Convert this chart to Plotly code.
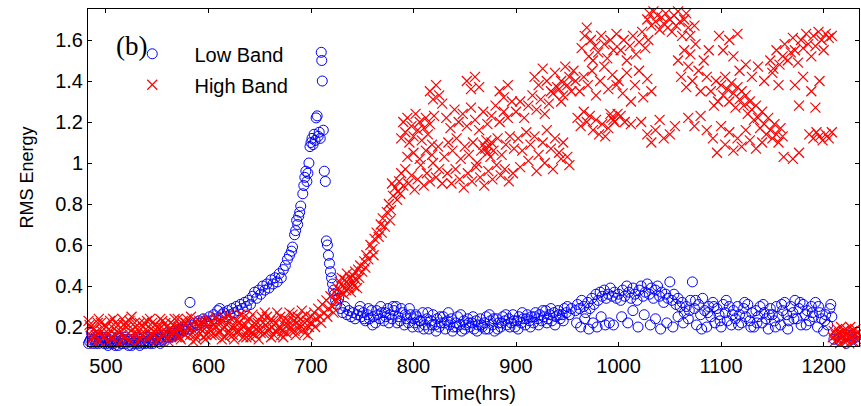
import plotly.graph_objects as go

# Low band RMS energy, (time in hrs, value)
low_band = [
    # 482-560, flat near the floor
    (482, 0.15), (484, 0.13), (486, 0.17), (488, 0.14), (490, 0.12), (492, 0.16), (494, 0.13), (496, 0.15),
    (498, 0.12), (500, 0.14), (502, 0.11), (504, 0.13), (506, 0.15), (508, 0.12), (510, 0.14), (512, 0.11),
    (514, 0.13), (516, 0.12), (518, 0.15), (520, 0.13), (522, 0.11), (524, 0.14), (526, 0.12), (528, 0.13),
    (530, 0.15), (532, 0.12), (534, 0.14), (536, 0.12), (538, 0.13), (540, 0.15), (542, 0.13), (544, 0.14),
    (546, 0.12), (548, 0.14), (550, 0.16), (552, 0.13), (554, 0.15), (556, 0.14), (558, 0.16), (560, 0.15),
    (483, 0.12), (485, 0.14), (487, 0.12), (489, 0.15), (491, 0.13), (493, 0.12), (495, 0.14), (497, 0.13),
    (499, 0.15), (501, 0.12), (503, 0.14), (505, 0.12), (507, 0.13), (509, 0.11), (511, 0.13), (513, 0.15),
    (515, 0.12), (517, 0.14), (519, 0.12), (521, 0.14), (523, 0.13), (525, 0.11), (527, 0.14), (529, 0.12),
    (531, 0.13), (533, 0.11), (535, 0.13), (537, 0.15), (539, 0.12), (541, 0.13), (543, 0.12), (545, 0.15),
    (547, 0.13), (549, 0.15), (551, 0.14), (553, 0.12), (555, 0.16), (557, 0.13), (559, 0.17),
    # 560-600
    (562, 0.16), (564, 0.15), (566, 0.17), (568, 0.16), (570, 0.18), (572, 0.17), (574, 0.19), (576, 0.18),
    (578, 0.20), (580, 0.19), (582, 0.32), (583, 0.21), (585, 0.20), (587, 0.22), (589, 0.21), (591, 0.23),
    (593, 0.22), (595, 0.24), (597, 0.23), (599, 0.22),
    (561, 0.15), (563, 0.17), (565, 0.16), (567, 0.18), (569, 0.17), (571, 0.19), (573, 0.18), (575, 0.20),
    (577, 0.19),
    # 600-640
    (601, 0.25), (603, 0.23), (605, 0.26), (607, 0.24), (609, 0.28), (611, 0.29), (613, 0.26), (615, 0.27),
    (617, 0.25), (619, 0.28), (621, 0.26), (623, 0.29), (625, 0.27), (627, 0.30), (629, 0.28), (631, 0.31),
    (633, 0.29), (635, 0.32), (637, 0.30), (639, 0.33),
    # 640-682, growth
    (641, 0.31), (643, 0.35), (645, 0.37), (647, 0.34), (649, 0.38), (651, 0.36), (653, 0.40), (655, 0.38),
    (657, 0.41), (659, 0.39), (661, 0.43), (663, 0.41), (665, 0.44), (667, 0.42), (669, 0.46), (671, 0.44),
    (673, 0.48), (675, 0.50), (677, 0.53), (679, 0.55), (681, 0.57),
    # 682-716, the peak
    (682, 0.59), (684, 0.65), (685, 0.67), (686, 0.72), (687, 0.70), (688, 0.74), (689, 0.76), (690, 0.79),
    (692, 0.85), (693, 0.89), (694, 0.93), (695, 0.96), (696, 0.91), (697, 0.95), (698, 1.00), (699, 1.08),
    (700, 1.10), (701, 1.12), (702, 1.09), (703, 1.14), (704, 1.11), (705, 1.22), (706, 1.23), (707, 1.13),
    (708, 1.15), (709, 1.12), (710, 1.54), (710.5, 1.50), (711, 1.40), (712, 1.16), (713, 0.96), (714, 0.91),
    (715, 0.62), (716, 0.60),
    # 716-745, drop
    (717, 0.55), (718, 0.51), (719, 0.47), (720, 0.44), (721, 0.41), (722, 0.38), (723, 0.36), (724, 0.33),
    (725, 0.31), (727, 0.34), (729, 0.29), (731, 0.27), (733, 0.30), (735, 0.26), (737, 0.28), (739, 0.25),
    (741, 0.27), (743, 0.24), (745, 0.26),
    # 747-800
    (747, 0.28), (749, 0.25), (751, 0.27), (753, 0.23), (755, 0.26), (757, 0.24), (759, 0.28), (761, 0.25),
    (763, 0.22), (765, 0.26), (767, 0.24), (769, 0.27), (771, 0.23), (773, 0.25), (775, 0.29), (777, 0.26),
    (779, 0.24), (781, 0.28), (783, 0.30), (785, 0.25), (787, 0.23), (789, 0.27), (791, 0.21), (793, 0.24),
    (795, 0.22), (797, 0.26), (799, 0.20),
    (748, 0.30), (752, 0.24), (756, 0.29), (760, 0.21), (764, 0.28), (768, 0.30), (772, 0.27), (776, 0.22),
    (780, 0.30), (784, 0.22), (788, 0.29), (792, 0.26), (796, 0.29), (800, 0.24),
    # 800-950
    (801, 0.22), (803, 0.25), (805, 0.20), (807, 0.23), (809, 0.27), (811, 0.21), (813, 0.24), (815, 0.19),
    (817, 0.23), (819, 0.26), (821, 0.21), (823, 0.24), (825, 0.20), (827, 0.22), (829, 0.25), (831, 0.19),
    (833, 0.23), (835, 0.21), (837, 0.24), (839, 0.20), (841, 0.22), (843, 0.25), (845, 0.21), (847, 0.18),
    (849, 0.23), (851, 0.21), (853, 0.24), (855, 0.20), (857, 0.22), (859, 0.19), (861, 0.23), (863, 0.21),
    (865, 0.24), (867, 0.20), (869, 0.22), (871, 0.25), (873, 0.19), (875, 0.23), (877, 0.21), (879, 0.18),
    (881, 0.24), (883, 0.22), (885, 0.20), (887, 0.25), (889, 0.23), (891, 0.21), (893, 0.24), (895, 0.22),
    (897, 0.26), (899, 0.20), (901, 0.23), (903, 0.25), (905, 0.22), (907, 0.24), (909, 0.21), (911, 0.26),
    (913, 0.23), (915, 0.25), (917, 0.22), (919, 0.27), (921, 0.24), (923, 0.26), (925, 0.23), (927, 0.25),
    (929, 0.28), (931, 0.24), (933, 0.26), (935, 0.23), (937, 0.27), (939, 0.25), (941, 0.28), (943, 0.24),
    (945, 0.26), (947, 0.29), (949, 0.27),
    (802, 0.26), (806, 0.23), (810, 0.19), (814, 0.27), (818, 0.21), (822, 0.18), (826, 0.25), (830, 0.22),
    (834, 0.27), (838, 0.18), (842, 0.20), (846, 0.26), (850, 0.19), (854, 0.22), (858, 0.25), (862, 0.18),
    (866, 0.21), (870, 0.19), (874, 0.26), (878, 0.24), (882, 0.19), (886, 0.22), (890, 0.26), (894, 0.20),
    (898, 0.23), (902, 0.19), (906, 0.27), (910, 0.24), (914, 0.20), (918, 0.25), (922, 0.21), (926, 0.28),
    (930, 0.22), (934, 0.29), (938, 0.21), (942, 0.26), (946, 0.23), (950, 0.30), (952, 0.26), (954, 0.29),
    # 958-1000, two levels
    (958, 0.28), (960, 0.31), (962, 0.29), (964, 0.33), (966, 0.30), (968, 0.27), (970, 0.32), (972, 0.29),
    (974, 0.34), (976, 0.31), (978, 0.36), (980, 0.33), (982, 0.37), (984, 0.35), (986, 0.38), (988, 0.34),
    (990, 0.36), (992, 0.39), (994, 0.35), (996, 0.37), (998, 0.34),
    (959, 0.22), (963, 0.20), (967, 0.24), (971, 0.19), (975, 0.22), (979, 0.20), (983, 0.25), (987, 0.21),
    (991, 0.22), (995, 0.21),
    # 1000-1060
    (1000, 0.36), (1002, 0.33), (1004, 0.38), (1006, 0.35), (1008, 0.40), (1010, 0.37), (1012, 0.34),
    (1014, 0.39), (1016, 0.36), (1018, 0.33), (1020, 0.38), (1022, 0.40), (1024, 0.35), (1026, 0.37),
    (1028, 0.41), (1030, 0.36), (1032, 0.39), (1034, 0.34), (1036, 0.38), (1038, 0.40), (1040, 0.35),
    (1042, 0.37), (1044, 0.32), (1046, 0.36), (1048, 0.34), (1050, 0.42), (1052, 0.33), (1054, 0.36),
    (1056, 0.31), (1058, 0.34), (1060, 0.30),
    (1003, 0.25), (1009, 0.22), (1014, 0.28), (1019, 0.20), (1025, 0.26), (1031, 0.21), (1036, 0.24),
    (1041, 0.19), (1047, 0.22), (1053, 0.20), (1058, 0.25),
    # 1062-1110
    (1062, 0.32), (1064, 0.27), (1066, 0.30), (1068, 0.24), (1070, 0.33), (1072, 0.42), (1074, 0.29),
    (1076, 0.21), (1078, 0.31), (1080, 0.26), (1082, 0.34), (1084, 0.28), (1086, 0.20), (1088, 0.30),
    (1090, 0.25), (1092, 0.32), (1094, 0.22), (1096, 0.29), (1098, 0.26), (1100, 0.20), (1102, 0.31),
    (1104, 0.27), (1106, 0.23), (1108, 0.30), (1110, 0.21),
    # 1112-1208
    (1112, 0.28), (1114, 0.24), (1116, 0.30), (1118, 0.26), (1120, 0.22), (1122, 0.29), (1124, 0.25),
    (1126, 0.31), (1128, 0.23), (1130, 0.27), (1132, 0.20), (1134, 0.28), (1136, 0.25), (1138, 0.30),
    (1140, 0.22), (1142, 0.27), (1144, 0.24), (1146, 0.19), (1148, 0.29), (1150, 0.26), (1152, 0.23),
    (1154, 0.30), (1156, 0.25), (1158, 0.21), (1160, 0.28), (1162, 0.32), (1164, 0.26), (1166, 0.23),
    (1168, 0.30), (1170, 0.27), (1172, 0.33), (1174, 0.24), (1176, 0.29), (1178, 0.21), (1180, 0.31),
    (1182, 0.26), (1184, 0.28), (1186, 0.23), (1188, 0.30), (1190, 0.25), (1192, 0.32), (1194, 0.20),
    (1196, 0.27), (1198, 0.24), (1200, 0.18), (1202, 0.26), (1204, 0.21), (1206, 0.29), (1208, 0.25),
    (1063, 0.22), (1069, 0.28), (1075, 0.33), (1081, 0.19), (1087, 0.27), (1093, 0.30), (1099, 0.23),
    (1105, 0.33), (1111, 0.26), (1117, 0.21), (1123, 0.32), (1129, 0.20), (1135, 0.22), (1141, 0.31),
    (1147, 0.26), (1153, 0.20), (1159, 0.31), (1165, 0.19), (1171, 0.24), (1177, 0.32), (1183, 0.21),
    (1189, 0.27), (1195, 0.30), (1201, 0.23), (1207, 0.31),
    # after 1210
    (1210, 0.14), (1213, 0.16), (1216, 0.13), (1219, 0.15), (1222, 0.12), (1225, 0.16), (1228, 0.14),
    (1231, 0.15), (1234, 0.13),
]

# High band RMS energy
high_band = [
    # 482-600
    (482, 0.17), (484, 0.21), (486, 0.14), (488, 0.19), (490, 0.16), (492, 0.22), (494, 0.13), (496, 0.18),
    (498, 0.15), (500, 0.20), (502, 0.17), (504, 0.23), (506, 0.14), (508, 0.19), (510, 0.16), (512, 0.21),
    (514, 0.18), (516, 0.24), (518, 0.15), (520, 0.20), (522, 0.17), (524, 0.13), (526, 0.19), (528, 0.22),
    (530, 0.16), (532, 0.18), (534, 0.14), (536, 0.20), (538, 0.17), (540, 0.23), (542, 0.15), (544, 0.19),
    (546, 0.16), (548, 0.21), (550, 0.18), (552, 0.14), (554, 0.20), (556, 0.17), (558, 0.22), (560, 0.15),
    (562, 0.19), (564, 0.16), (566, 0.21), (568, 0.18), (570, 0.24), (572, 0.15), (574, 0.20), (576, 0.17),
    (578, 0.22), (580, 0.19), (582, 0.16), (584, 0.21), (586, 0.18), (588, 0.14), (590, 0.20), (592, 0.17),
    (594, 0.23), (596, 0.19), (598, 0.16), (600, 0.21),
    (483, 0.23), (489, 0.12), (495, 0.22), (501, 0.13), (507, 0.24), (513, 0.12), (519, 0.22), (525, 0.25),
    (531, 0.13), (537, 0.22), (543, 0.24), (549, 0.13), (555, 0.23), (561, 0.13), (567, 0.24), (573, 0.14),
    (579, 0.24), (585, 0.13), (591, 0.23), (597, 0.14),
    (485, 0.20), (487, 0.15), (491, 0.18), (493, 0.24), (497, 0.16), (499, 0.21), (503, 0.19), (505, 0.15),
    (509, 0.22), (511, 0.18), (515, 0.16), (517, 0.21), (521, 0.14), (523, 0.23), (527, 0.17), (529, 0.20),
    (533, 0.22), (535, 0.16), (539, 0.19), (541, 0.14), (545, 0.22), (547, 0.18), (551, 0.20), (553, 0.24),
    (557, 0.16), (559, 0.20), (563, 0.22), (565, 0.18), (569, 0.15), (571, 0.20), (575, 0.23), (577, 0.16),
    (581, 0.20), (583, 0.25), (587, 0.16), (589, 0.22), (593, 0.19), (595, 0.15), (599, 0.24),
    # 602-700
    (602, 0.18), (604, 0.22), (606, 0.16), (608, 0.20), (610, 0.17), (612, 0.23), (614, 0.19), (616, 0.15),
    (618, 0.21), (620, 0.18), (622, 0.24), (624, 0.16), (626, 0.20), (628, 0.17), (630, 0.22), (632, 0.19),
    (634, 0.15), (636, 0.21), (638, 0.18), (640, 0.24), (642, 0.17), (644, 0.20), (646, 0.16), (648, 0.22),
    (650, 0.19), (652, 0.25), (654, 0.17), (656, 0.21), (658, 0.18), (660, 0.23), (662, 0.20), (664, 0.16),
    (666, 0.22), (668, 0.19), (670, 0.25), (672, 0.18), (674, 0.21), (676, 0.17), (678, 0.23), (680, 0.20),
    (682, 0.26), (684, 0.18), (686, 0.22), (688, 0.19), (690, 0.24), (692, 0.21), (694, 0.17), (696, 0.23),
    (698, 0.20), (700, 0.25),
    (607, 0.25), (613, 0.14), (619, 0.26), (625, 0.14), (631, 0.26), (637, 0.15), (643, 0.26), (649, 0.14),
    (655, 0.27), (661, 0.15), (667, 0.27), (673, 0.15), (679, 0.27), (685, 0.16), (691, 0.28), (697, 0.16),
    (601, 0.19), (603, 0.16), (605, 0.21), (609, 0.23), (611, 0.18), (615, 0.20), (617, 0.24), (621, 0.16),
    (623, 0.20), (627, 0.23), (629, 0.18), (633, 0.21), (635, 0.25), (639, 0.19), (641, 0.15), (645, 0.22),
    (647, 0.19), (651, 0.17), (653, 0.22), (657, 0.25), (659, 0.19), (663, 0.23), (665, 0.18), (669, 0.20),
    (671, 0.16), (675, 0.24), (677, 0.21), (681, 0.18), (683, 0.23), (687, 0.25), (689, 0.21), (693, 0.19),
    (695, 0.26), (699, 0.22),
    # 701-725
    (701, 0.22), (703, 0.27), (705, 0.24), (707, 0.29), (709, 0.25), (711, 0.31), (713, 0.27), (715, 0.33),
    (717, 0.29), (719, 0.35), (721, 0.30), (723, 0.37), (725, 0.33), (704, 0.20), (710, 0.22), (716, 0.25),
    (722, 0.27),
    # 726-748 cluster
    (726, 0.39), (727, 0.35), (728, 0.42), (729, 0.37), (730, 0.44), (731, 0.40), (732, 0.36), (733, 0.43),
    (734, 0.38), (735, 0.46), (736, 0.41), (737, 0.39), (738, 0.44), (739, 0.37), (740, 0.42), (741, 0.45),
    (742, 0.40), (743, 0.47), (744, 0.43), (745, 0.39), (746, 0.48), (747, 0.44), (748, 0.50),
    # 750-790 rise
    (750, 0.47), (752, 0.52), (754, 0.55), (756, 0.53), (758, 0.60), (760, 0.58), (762, 0.63), (764, 0.66),
    (766, 0.64), (768, 0.70), (770, 0.73), (772, 0.69), (774, 0.76), (776, 0.80), (778, 0.77), (780, 0.84),
    (782, 0.88), (784, 0.82), (786, 0.91), (788, 0.95), (790, 0.89), (753, 0.49), (761, 0.55), (769, 0.66),
    (777, 0.72), (785, 0.86), (779, 0.90), (787, 0.85),
    # 788-830
    (788, 1.12), (790, 1.20), (792, 1.15), (794, 1.22), (796, 1.10), (798, 1.18), (800, 1.13), (802, 1.24),
    (804, 1.16), (806, 1.20), (808, 1.11), (810, 1.17), (812, 1.22), (814, 1.14), (816, 1.19), (818, 1.09),
    (820, 1.23),
    (816, 1.35), (819, 1.31), (822, 1.38), (825, 1.33), (828, 1.29),
    (792, 0.97), (795, 0.90), (798, 0.94), (801, 0.87), (804, 0.92), (807, 0.99), (810, 0.89), (813, 0.95),
    (816, 0.91), (819, 1.00), (822, 0.93), (825, 0.97), (828, 0.90),
    (794, 1.03), (800, 1.05), (806, 1.02), (812, 1.06), (818, 1.04), (824, 1.08), (830, 1.03),
    # 830-900
    (832, 1.22), (836, 1.17), (840, 1.26), (844, 1.20), (848, 1.24), (852, 1.18), (856, 1.27), (860, 1.21),
    (864, 1.16), (868, 1.25), (872, 1.19), (876, 1.23), (880, 1.28), (884, 1.20), (888, 1.25), (892, 1.22),
    (896, 1.30),
    (852, 1.40), (856, 1.36), (860, 1.42), (864, 1.37), (884, 1.35), (888, 1.32), (892, 1.38),
    (834, 1.10), (838, 1.06), (842, 1.12), (846, 1.02), (850, 1.08), (854, 1.04), (858, 1.10), (862, 1.00),
    (866, 1.06), (868, 1.09), (870, 1.07), (871, 1.11), (872, 1.05), (874, 1.08), (875, 1.03), (876, 1.10),
    (878, 1.06), (882, 1.12), (886, 1.04), (890, 1.09), (894, 1.13), (898, 1.07),
    (833, 0.95), (837, 0.90), (841, 0.97), (845, 0.92), (849, 0.88), (853, 0.95), (857, 0.91), (861, 0.98),
    (865, 0.93), (869, 0.89), (873, 0.96), (877, 0.92), (881, 0.99), (885, 0.94), (889, 0.97), (893, 0.91),
    (897, 0.95),
    # 900-960
    (918, 1.42), (922, 1.38), (926, 1.46), (930, 1.40), (934, 1.35), (938, 1.44), (940, 1.37), (942, 1.36),
    (944, 1.40), (946, 1.33), (948, 1.47), (950, 1.38), (952, 1.42), (954, 1.35), (956, 1.45), (958, 1.40),
    (900, 1.25), (904, 1.30), (908, 1.22), (912, 1.28), (916, 1.33), (920, 1.26), (924, 1.31), (928, 1.24),
    (932, 1.29), (936, 1.34), (944, 1.30),
    (902, 1.12), (906, 1.06), (910, 1.15), (914, 1.09), (918, 1.13), (922, 1.04), (926, 1.10), (930, 1.16),
    (934, 1.07), (938, 1.12), (942, 1.05), (946, 1.10), (950, 1.03),
    (904, 0.98), (912, 1.01), (920, 0.96), (928, 1.00), (936, 0.97), (944, 1.02), (952, 0.99),
    # 960-1000
    (964, 1.56), (967, 1.62), (969, 1.66), (971, 1.52), (973, 1.60), (975, 1.50), (977, 1.57), (980, 1.54),
    (983, 1.62), (986, 1.58), (989, 1.51), (992, 1.60), (995, 1.55), (998, 1.63),
    (962, 1.35), (966, 1.42), (970, 1.38), (974, 1.45), (978, 1.33), (982, 1.40), (986, 1.47), (990, 1.36),
    (994, 1.43), (998, 1.38),
    (960, 1.22), (963, 1.18), (966, 1.25), (969, 1.20), (972, 1.23), (975, 1.16), (978, 1.21), (981, 1.14),
    (984, 1.19), (987, 1.13), (990, 1.17), (993, 1.22), (996, 1.20), (999, 1.24),
    # 1000-1090
    (1028, 1.70), (1030, 1.73), (1032, 1.67), (1034, 1.74), (1036, 1.69), (1038, 1.72), (1040, 1.65),
    (1042, 1.71), (1044, 1.68), (1046, 1.73), (1048, 1.66), (1050, 1.70), (1052, 1.64), (1054, 1.72),
    (1056, 1.67), (1058, 1.74), (1060, 1.69), (1062, 1.62), (1064, 1.70), (1066, 1.73), (1068, 1.66),
    (1070, 1.62), (1074, 1.67),
    (1002, 1.55), (1005, 1.60), (1008, 1.50), (1011, 1.57), (1014, 1.62), (1017, 1.53), (1020, 1.59),
    (1023, 1.64), (1026, 1.56), (1029, 1.60),
    (1000, 1.40), (1004, 1.34), (1008, 1.44), (1012, 1.30), (1016, 1.38), (1020, 1.45), (1024, 1.32),
    (1028, 1.41), (1032, 1.35),
    (992, 1.24), (995, 1.21), (1002, 1.23), (1006, 1.20), (1012, 1.19), (1022, 1.20), (1028, 1.14),
    (1032, 1.10), (1036, 1.16), (1040, 1.21), (1044, 1.12), (1050, 1.14), (1055, 1.18),
    (1058, 1.50), (1061, 1.42), (1064, 1.55), (1066, 1.37), (1068, 1.47), (1070, 1.53), (1072, 1.40),
    (1075, 1.58), (1078, 1.45), (1080, 1.35), (1083, 1.50), (1086, 1.42), (1088, 1.55),
    (1068, 1.22), (1074, 1.18), (1080, 1.23), (1086, 1.16),
    # 1090-1165
    (1098, 1.62), (1102, 1.55), (1108, 1.60), (1112, 1.52), (1116, 1.63),
    (1090, 1.35), (1093, 1.28), (1095, 1.40), (1097, 1.30), (1100, 1.38), (1102, 1.33), (1104, 1.42),
    (1106, 1.36), (1108, 1.30), (1110, 1.39), (1112, 1.34), (1114, 1.27), (1116, 1.37), (1118, 1.31),
    (1120, 1.35), (1122, 1.28), (1124, 1.33), (1126, 1.24), (1128, 1.30), (1130, 1.26), (1132, 1.21),
    (1134, 1.28), (1136, 1.22), (1138, 1.17), (1140, 1.25), (1142, 1.19), (1144, 1.14), (1146, 1.22),
    (1148, 1.16), (1150, 1.12), (1152, 1.19), (1154, 1.14), (1156, 1.10), (1158, 1.17), (1160, 1.13),
    (1092, 1.12), (1096, 1.05), (1100, 1.18), (1104, 1.09), (1108, 1.15), (1112, 1.06), (1116, 1.12),
    (1120, 1.08), (1124, 1.16), (1128, 1.11), (1134, 1.07), (1140, 1.10),
    (1118, 1.45), (1124, 1.48), (1130, 1.42), (1136, 1.47), (1142, 1.40), (1150, 1.44), (1156, 1.38),
    (1161, 1.03), (1170, 1.02), (1176, 1.05),
    # 1148-1210
    (1148, 1.50), (1151, 1.46), (1154, 1.55), (1157, 1.48), (1160, 1.52), (1162, 1.58), (1165, 1.50),
    (1168, 1.54), (1170, 1.61), (1172, 1.55), (1175, 1.49), (1178, 1.60), (1180, 1.56), (1183, 1.63),
    (1185, 1.58), (1188, 1.52), (1190, 1.62), (1192, 1.57), (1195, 1.64), (1198, 1.60), (1200, 1.55),
    (1202, 1.63), (1205, 1.61), (1208, 1.62),
    (1172, 1.38), (1180, 1.42), (1188, 1.35), (1196, 1.40), (1176, 1.28), (1192, 1.27),
    (1186, 1.14), (1190, 1.12), (1193, 1.15), (1196, 1.13), (1199, 1.11), (1202, 1.14), (1205, 1.12),
    (1208, 1.15),
    # after 1209, back to the floor
    (1209, 0.15), (1210, 0.18), (1211, 0.13), (1212, 0.16), (1213, 0.19), (1214, 0.14), (1215, 0.17),
    (1216, 0.12), (1217, 0.20), (1218, 0.15), (1219, 0.18), (1220, 0.13), (1221, 0.16), (1222, 0.19),
    (1223, 0.14), (1224, 0.17), (1225, 0.12), (1226, 0.20), (1227, 0.15), (1228, 0.18), (1229, 0.13),
    (1230, 0.16), (1231, 0.19), (1232, 0.14), (1233, 0.17), (1234, 0.15),
]

x_ticks = [500, 600, 700, 800, 900, 1000, 1100, 1200]
y_ticks = [0.2, 0.4, 0.6, 0.8, 1.0, 1.2, 1.4, 1.6]
y_labels = ["0.2", "0.4", "0.6", "0.8", "1", "1.2", "1.4", "1.6"]

low_t, low_v = zip(*low_band)
high_t, high_v = zip(*high_band)

fig = go.Figure()
fig.add_trace(go.Scatter(x=low_t, y=low_v, mode="markers", name="\u00a0\u00a0\u00a0\u00a0Low Band",
                         legendgroup="a",
                         marker=dict(symbol="circle-open", size=10, color="#0000ff", line=dict(width=1)),
                         cliponaxis=False))
fig.add_trace(go.Scatter(x=high_t, y=high_v, mode="markers", name="\u00a0\u00a0\u00a0\u00a0High Band",
                         legendgroup="b",
                         marker=dict(symbol="x-thin-open", size=10, color="#ff0000", line=dict(width=1.2)),
                         cliponaxis=False))

axis_common = dict(showline=True, linecolor="black", linewidth=1, mirror="ticks", ticks="inside",
                   ticklen=4, tickcolor="black", showgrid=False, zeroline=False, automargin=False,
                   tickfont=dict(family="Liberation Sans", size=20, color="black"))

fig.update_xaxes(range=[482.5, 1234.5], tickvals=x_ticks, ticklabelstandoff=2, **axis_common,
                 title=dict(text="Time(hrs)", font=dict(family="Liberation Sans", size=20, color="black"),
                            standoff=9))
fig.update_yaxes(range=[0.1073, 1.7512], tickvals=y_ticks, ticktext=y_labels, **axis_common,
                 title=dict(text="RMS Energy", font=dict(family="Liberation Sans", size=18, color="black"),
                            standoff=16))

fig.add_annotation(text="(b)", xref="paper", yref="paper", x=0.034, y=0.89, xanchor="left", yanchor="middle",
                   showarrow=False, font=dict(family="Liberation Serif", size=27, color="black"))

fig.update_layout(
    width=861, height=406,
    margin=dict(l=88, r=2, t=9, b=60, autoexpand=False),
    plot_bgcolor="white", paper_bgcolor="white",
    legend=dict(x=0.0574, y=0.925, xanchor="left", yanchor="top", bgcolor="rgba(0,0,0,0)",
                font=dict(family="Liberation Sans", size=20, color="black"),
                traceorder="grouped", tracegroupgap=2),
)

# the page's default body margin would shift the figure by 8px
fig.write_html("out.html", config={"displayModeBar": False},
               post_script="document.body.style.margin = '0';")
